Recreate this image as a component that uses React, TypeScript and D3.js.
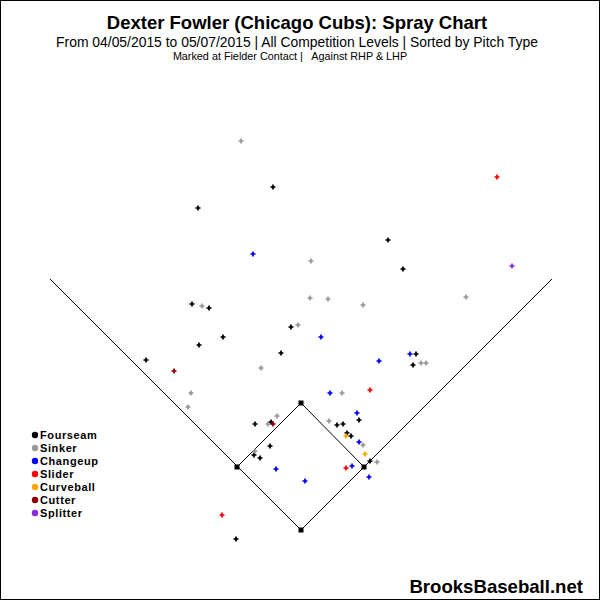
import React, { useEffect, useRef } from 'react';
import * as d3 from 'd3';

// field coordinates: home plate at (0,0), x to the right, y toward center field
const pitchTypes = ['Fourseam', 'Sinker', 'Changeup', 'Slider', 'Curveball', 'Cutter', 'Splitter'];
const pitchColors = ['#000000', '#999999', '#0000ff', '#ff0000', '#ffa500', '#8b0000', '#8a2be2'];

const fourseam = [
    [-28, 343], [-103, 322], [87, 290], [102, 261], [-109, 226], [-92, 222], [-10, 203],
    [-78, 193], [-102, 185], [-20, 177], [-155, 170], [115, 176], [112, 165], [58, 110],
    [36, 105], [42, 106], [46, 97], [50, 94], [69, 69], [-46, 106], [-30, 108], [-31, 84],
    [-47, 75], [-41, 72], [-65, -9],
];
const sinker = [
    [-60, 389], [10, 269], [9, 232], [27, 231], [62, 225], [165, 233], [-99, 224], [-3, 205],
    [-40, 162], [-110, 137], [-113, 123], [-24, 114], [120, 167], [125, 167], [41, 137],
    [28, 109], [62, 85], [76, 68], [-33, 106], [-46, 79],
];
const changeup = [
    [-48, 276], [20, 193], [78, 169], [109, 176], [29, 137], [56, 117], [58, 88], [51, 64],
    [68, 53], [-25, 61], [4, 49],
];
const slider = [[196, 353], [69, 140], [45, 62], [-79, 15]];
const curveball = [[45, 94], [64, 76]];
const cutter = [[-127, 159], [-28, 106]];
const splitter = [[211, 264]];

const series = [fourseam, sinker, changeup, slider, curveball, cutter, splitter];

const bases = [[0, 0], [63, 63], [0, 127], [-64, 63]];
const foulPoles = [[-251, 251], [251, 251]];

export default function App() {
    const svgRef = useRef(null);
    const width = 600;
    const height = 600;

    useEffect(() => {
        const svg = d3.select(svgRef.current);
        svg.selectAll('*').remove();

        const x = d3.scaleLinear().domain([-301, 299]).range([0, 600]);
        const y = d3.scaleLinear().domain([0, 530]).range([530, 0]);
        const font = 'Liberation Sans, Arial, sans-serif';

        svg.append('rect').attr('x', 0.5).attr('y', 0.5).attr('width', width - 1).attr('height', height - 1)
            .attr('fill', '#fff').attr('stroke', '#000');

        // titles
        svg.append('text').attr('x', 297).attr('y', 29).attr('text-anchor', 'middle')
            .attr('font-family', font).attr('font-weight', 'bold').attr('font-size', 18.5)
            .text('Dexter Fowler (Chicago Cubs): Spray Chart');
        svg.append('text').attr('x', 297).attr('y', 47).attr('text-anchor', 'middle')
            .attr('font-family', font).attr('font-size', 13.9)
            .text('From 04/05/2015 to 05/07/2015 | All Competition Levels | Sorted by Pitch Type');
        svg.append('text').attr('x', 290).attr('y', 59.5).attr('text-anchor', 'middle')
            .attr('font-family', font).attr('font-size', 10.8)
            .style('white-space', 'pre')
            .text('Marked at Fielder Contact |   Against RHP & LHP');

        // field lines
        const line = d3.line().x(d => x(d[0])).y(d => y(d[1]));
        const [home, first, second, third] = bases;
        svg.append('path').attr('d', line([foulPoles[0], home, foulPoles[1]]))
            .attr('fill', 'none').attr('stroke', '#000').attr('stroke-width', 1);
        svg.append('path').attr('d', line([third, second, first]))
            .attr('fill', 'none').attr('stroke', '#000').attr('stroke-width', 1);
        svg.selectAll('.base').data(bases).enter().append('rect')
            .attr('x', d => x(d[0]) - 2.5).attr('y', d => y(d[1]) - 2.5)
            .attr('width', 5).attr('height', 5).attr('fill', '#000');

        // batted balls
        const cross = d3.symbol().type(d3.symbolCross).size(14);
        const dot = d3.symbol().type(d3.symbolSquare).size(6);
        series.forEach((pts, i) => {
            const g = svg.append('g').attr('fill', pitchColors[i]);
            const m = g.selectAll('g').data(pts).enter().append('g')
                .attr('transform', d => `translate(${x(d[0])},${y(d[1])})`);
            m.append('path').attr('d', cross);
            m.append('path').attr('d', dot);
        });

        // legend
        const ly = d3.scalePoint().domain(pitchTypes).range([435, 513]);
        const lg = svg.append('g');
        lg.selectAll('circle').data(pitchTypes).enter().append('circle')
            .attr('cx', 35).attr('cy', d => ly(d)).attr('r', 3.2)
            .attr('fill', (d, i) => pitchColors[i]);
        lg.selectAll('text').data(pitchTypes).enter().append('text')
            .attr('x', 40).attr('y', d => ly(d) + 4)
            .attr('font-family', font).attr('font-weight', 'bold')
            .attr('font-size', 11).attr('letter-spacing', 0.6)
            .text(d => d);

        svg.append('text').attr('x', 583).attr('y', 593).attr('text-anchor', 'end')
            .attr('font-family', font).attr('font-weight', 'bold').attr('font-size', 18.6)
            .text('BrooksBaseball.net');
    }, []);

    return <svg ref={svgRef} width={width} height={height} style={{ position: 'absolute', left: 0, top: 0 }} />;
}
